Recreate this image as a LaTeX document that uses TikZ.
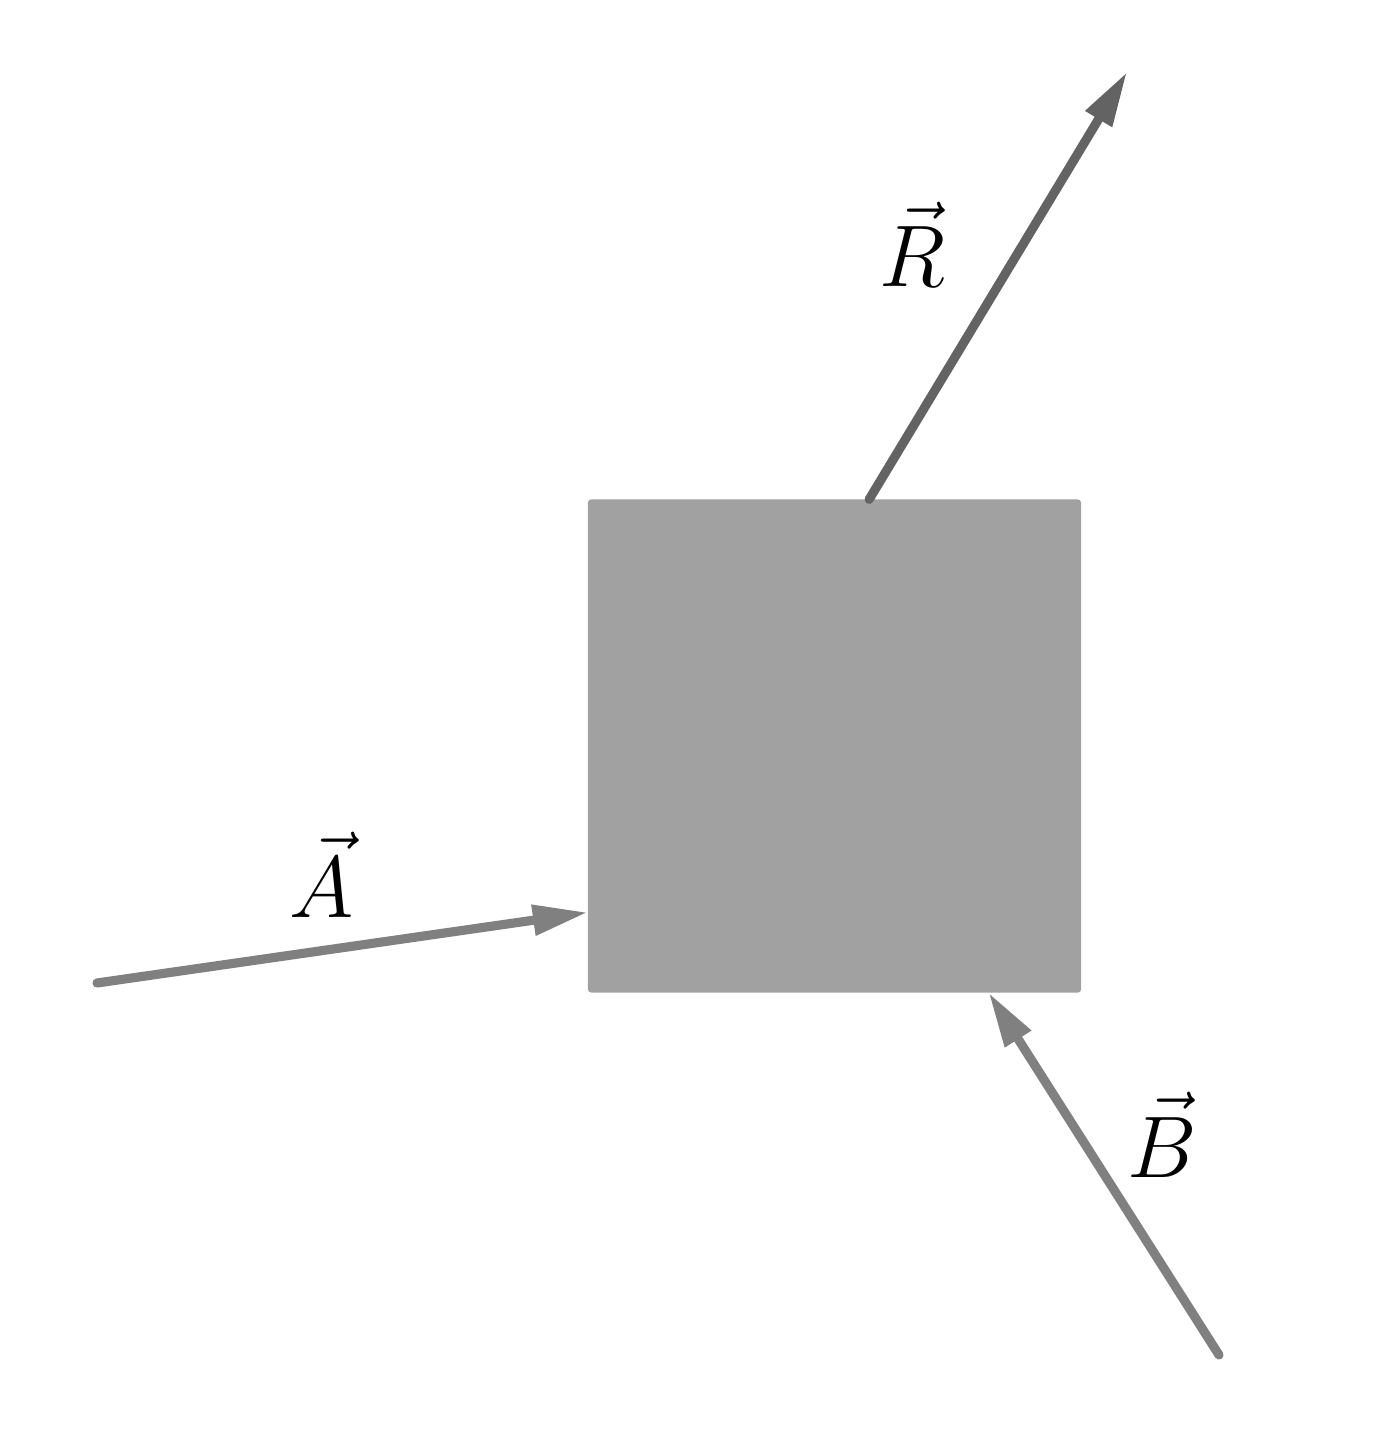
\documentclass[tikz,border=0pt]{standalone}
\usetikzlibrary{arrows.meta}
\begin{document}
\begin{tikzpicture}[x=0.01cm, y=-0.01cm,
        vec/.style={line width=2.6pt, line cap=round, -{Triangle[length=0.55cm, width=0.29cm]}},
        lbl/.style={anchor=base, font=\Huge}]
        \useasboundingbox (0, 0) rectangle (1382, 1437);
        \node[fill=black!37, rounded corners=1pt, minimum size=4.93cm, inner sep=0pt, outer sep=0pt] (block) at (834.5, 746) {};
        \coordinate (aTail) at (97, 983);
        \coordinate (bTail) at (1219, 1355);
        \coordinate (rHead) at (1127, 72);
        \draw[vec, black!50] (aTail) -- (block.214.6);
        \draw[vec, black!50] (bTail) -- (block.302.5);
        \draw[vec, black!61] (block.82.7) -- (rHead);
        \node[lbl] (aLabel) at (322, 917) {$\vec{A}$};
        \node[lbl] (bLabel) at (1162, 1177) {$\vec{B}$};
        \node[lbl] (rLabel) at (912, 287) {$\vec{R}$}; % 标签位置按像素估计
    \end{tikzpicture}
\end{document}
